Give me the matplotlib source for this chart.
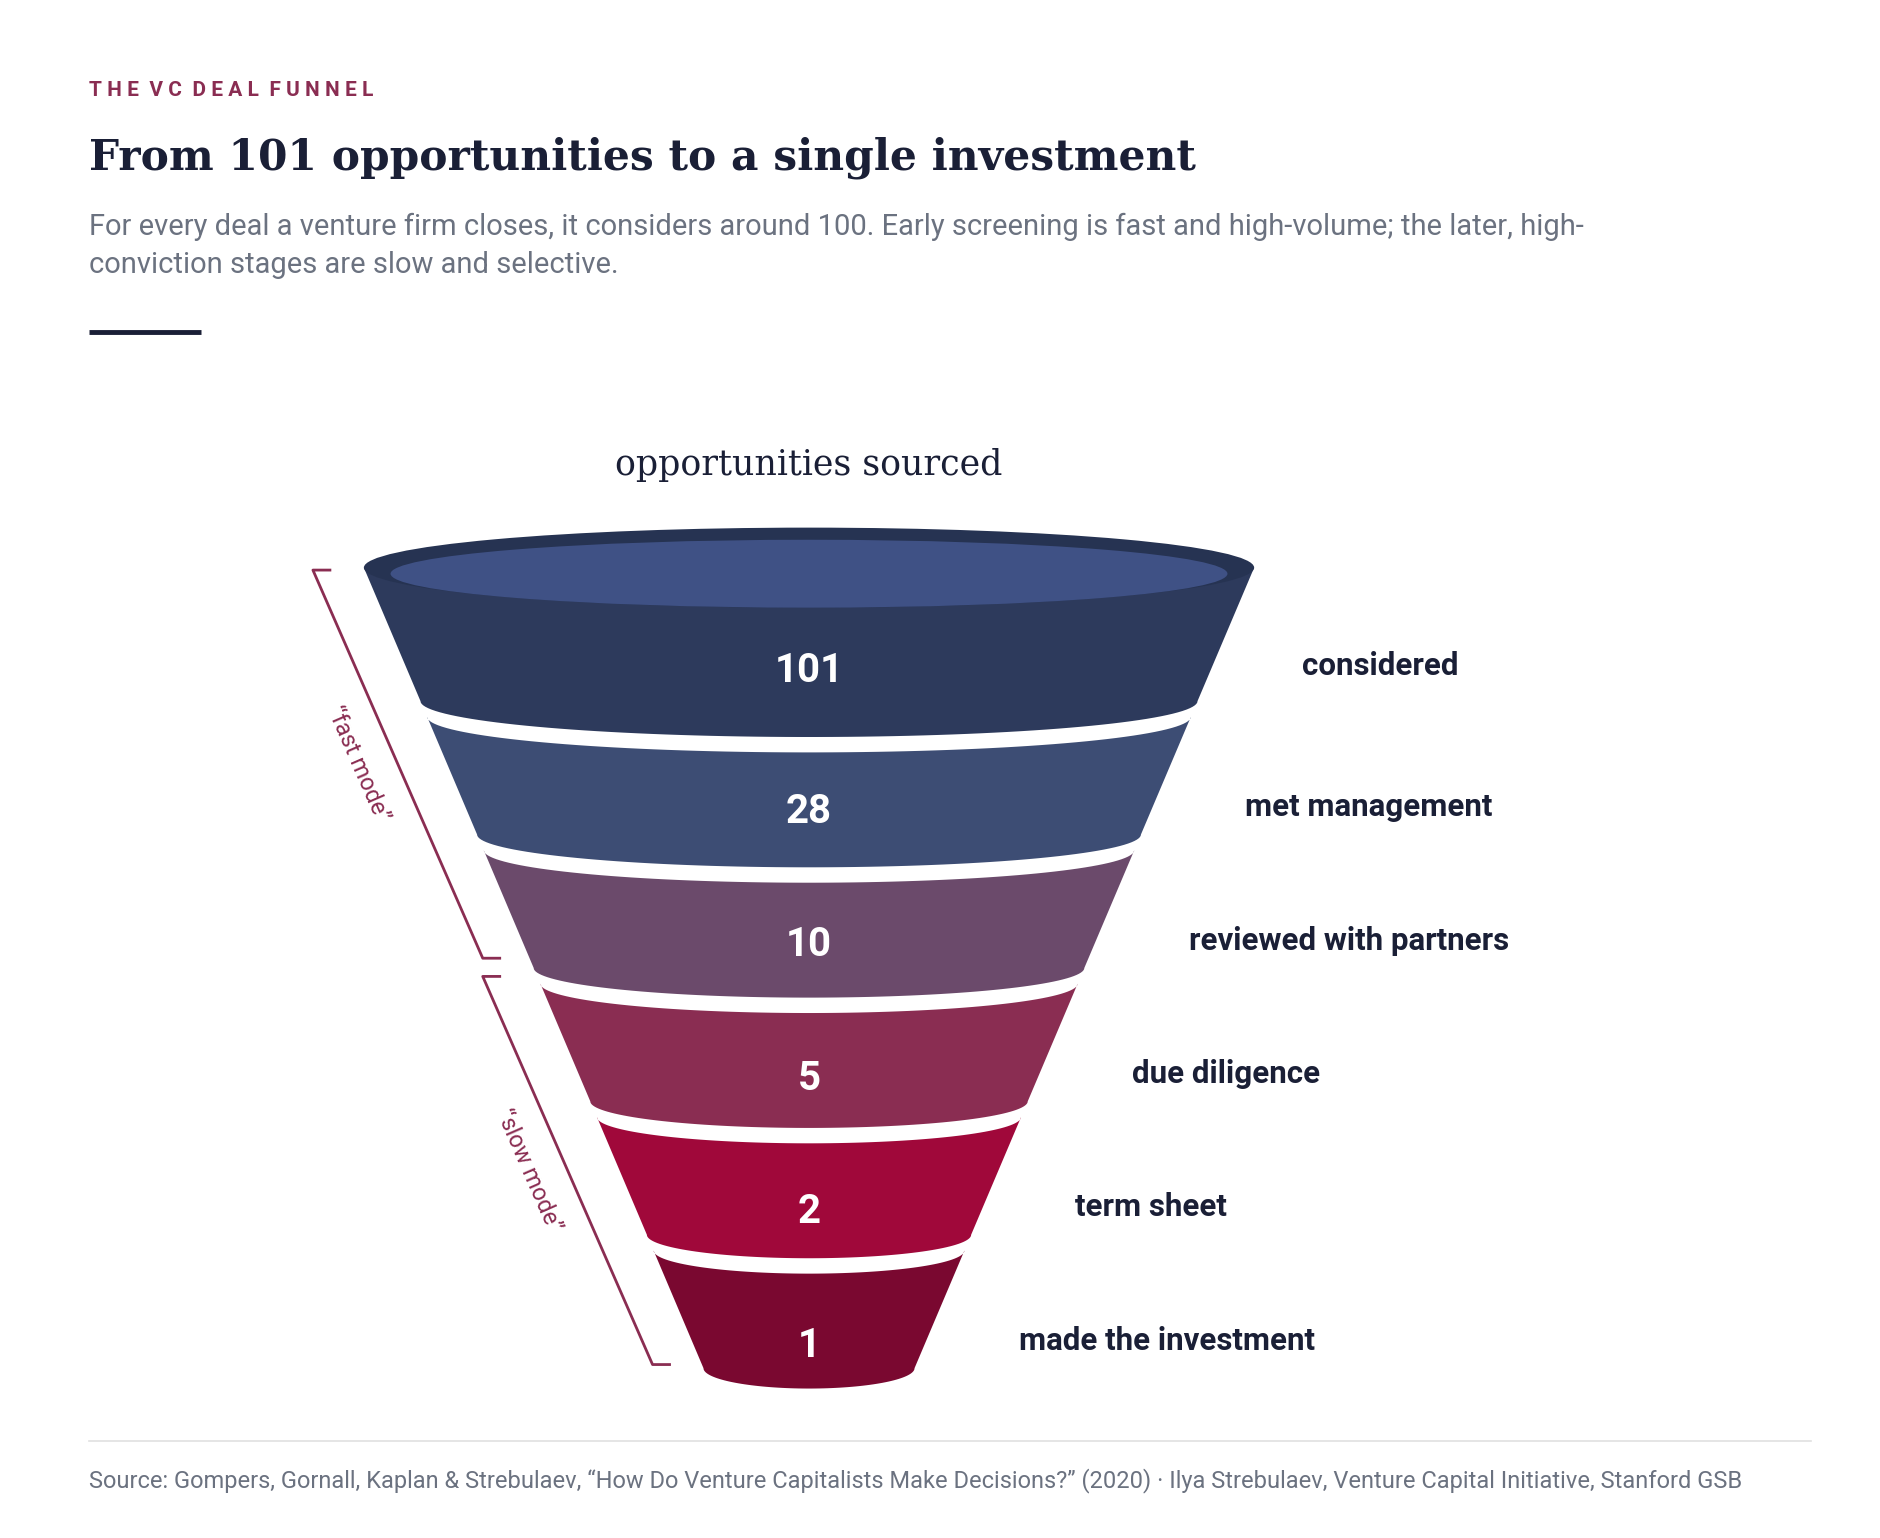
import numpy as np
import matplotlib.pyplot as plt
from matplotlib.patches import Polygon, Ellipse

stages = ["considered", "met management", "reviewed with partners",
          "due diligence", "term sheet", "made the investment"]
counts = [101, 28, 10, 5, 2, 1]
colors = ["#2d3a5c", "#3d4d74", "#6b4a6b", "#8a2d52", "#a0083a", "#7a0830"]

W, H = 1550, 1268
fig = plt.figure(figsize=(18.8, 15.38), dpi=100)
ax = fig.add_axes([0, 0, 1, 1])
ax.set_xlim(0, W)
ax.set_ylim(H, 0)
ax.axis("off")

sans = ["Roboto", "DejaVu Sans"]
serif = ["DejaVu Serif"]
dark = "#1a1f36"
accent = "#8a2d52"

# header
ax.text(73, 75, "T H E  V C  D E A L  F U N N E L", family=sans,
        fontsize=15, weight="bold", color=accent, va="center")
ax.text(73, 130, "From 101 opportunities to a single investment", family=serif,
        fontsize=30.5, weight="bold", color=dark, va="center")
ax.text(73, 203, "For every deal a venture firm closes, it considers around 100. Early screening is fast and high-volume; the later, high-\nconviction stages are slow and selective.",
        family=sans, fontsize=21, color="#6b7280", va="center", linespacing=1.45)
ax.plot([73, 166], [274, 274], color=dark, lw=3.5, solid_capstyle="butt")

# funnel geometry
cx = 667
y_top, y_bot = 468, 1128
hw_top, hw_bot = 367, 87
levels = np.linspace(y_top, y_bot, len(counts) + 1)
gap = 13

def half_width(y):
    return hw_top + (hw_bot - hw_top) * (y - y_top) / (y_bot - y_top)

def arc(y, n=80, reverse=False):
    hw = half_width(y)
    ry = 0.055 * hw + 12
    t = np.linspace(np.pi, 0, n) if not reverse else np.linspace(0, np.pi, n)
    return np.column_stack([cx + hw * np.cos(t), y + ry * np.sin(t)])

for i, (n, c) in enumerate(zip(counts, colors)):
    yt = levels[i] + (gap if i > 0 else 0)
    yb = levels[i + 1]
    if i == 0:
        hw = half_width(yt)
        top = np.array([[cx - hw, yt], [cx + hw, yt]])
    else:
        top = arc(yt)
    bottom = arc(yb, reverse=True)
    ax.add_patch(Polygon(np.vstack([top, bottom]), closed=True, fc=c, ec="none"))
    ax.text(cx, (yt + yb) / 2 + 30, str(n), family=sans, fontsize=29, weight="bold",
            color="white", ha="center", va="center")
    lx = cx + half_width(yb) + 86
    ax.text(lx, (yt + yb) / 2 + 26, stages[i], family=sans, fontsize=22.5,
            weight="bold", color=dark, va="center")

# top rim
ax.add_patch(Ellipse((cx, y_top), 2 * hw_top, 66, fc="#263352", ec="none"))
ax.add_patch(Ellipse((cx, y_top + 5), 2 * (hw_top - 22), 56, fc="#3f5185", ec="none"))
ax.text(cx, 383, "opportunities sourced", family=serif, fontsize=25,
        color=dark, ha="center", va="center")

# brackets
def bracket(x0, y0, x1, y1, label):
    ax.plot([x0 + 14, x0, x1, x1 + 14], [y0, y0, y1, y1], color=accent, lw=2)
    ang = -np.degrees(np.arctan2(y1 - y0, x1 - x0))
    mx, my = (x0 + x1) / 2, (y0 + y1) / 2
    ax.text(mx - 24, my - 4, label, family=sans, fontsize=17, color=accent,
            rotation=ang, rotation_mode="anchor", ha="center", va="top")

bracket(258, 470, 398, 790, "\u201cfast mode\u201d")
bracket(398, 805, 538, 1125, "\u201cslow mode\u201d")

# footer
ax.plot([73, 1493], [1188, 1188], color="#e0e0e0", lw=1.2)
ax.text(73, 1221, "Source: Gompers, Gornall, Kaplan & Strebulaev, \u201cHow Do Venture Capitalists Make Decisions?\u201d (2020) \u00b7 Ilya Strebulaev, Venture Capital Initiative, Stanford GSB",
        family=sans, fontsize=17, color="#6b7280", va="center")

fig.savefig("out.png", dpi=100, facecolor="white")
